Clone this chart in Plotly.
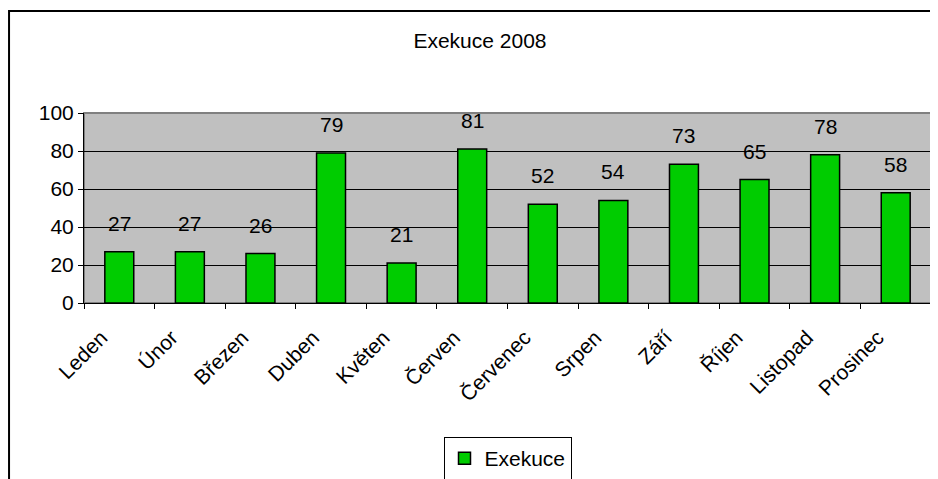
import plotly.graph_objects as go

months = ["Leden", "Únor", "Březen", "Duben", "Květen", "Červen",
          "Červenec", "Srpen", "Září", "Říjen", "Listopad", "Prosinec"]
exekuce = [27, 27, 26, 79, 21, 81, 52, 54, 73, 65, 78, 58]
y_ticks = [0, 20, 40, 60, 80, 100]

FONT = "Liberation Sans, Arial, sans-serif"

fig = go.Figure()
fig.add_trace(go.Bar(
    x=months, y=exekuce, name="Exekuce",
    marker=dict(color="#00CC00", line=dict(color="black", width=1.5)),
))

# value labels above bars
for m, v in zip(months, exekuce):
    fig.add_annotation(x=m, y=v, text=str(v), showarrow=False,
                       yanchor="bottom", yshift=15,
                       font=dict(size=21, color="black", family=FONT))

# outer chart frame (cropped on right/bottom like the original)
fig.add_shape(type="rect", xref="paper", yref="paper",
              x0=-0.0885, x1=1.2, y0=-1.5, y1=1.537,
              line=dict(color="black", width=2), layer="below")
# plot area border
fig.add_shape(type="rect", xref="paper", yref="paper",
              x0=0, x1=1, y0=0, y1=1,
              line=dict(color="#808080", width=2), layer="below")

fig.update_layout(
    width=930, height=471,
    margin=dict(l=76, r=7, t=105, b=176),
    paper_bgcolor="white",
    plot_bgcolor="#C0C0C0",
    font=dict(family=FONT, size=21, color="black"),
    title=dict(text="Exekuce 2008", x=0.4675, xref="paper", xanchor="center",
               y=0.93, yref="container", yanchor="middle",
               font=dict(size=21, family=FONT, color="black")),
    bargap=0.59,
    showlegend=True,
    legend=dict(x=0.5, xanchor="center", xref="paper",
                y=0.089, yanchor="top", yref="container",
                orientation="h", bgcolor="white",
                bordercolor="black", borderwidth=1,
                font=dict(size=21, family=FONT, color="black")),
    xaxis=dict(tickangle=-45, tickson="boundaries", ticks="outside",
               ticklen=5, tickcolor="black", showline=True,
               linecolor="black", linewidth=1, showgrid=False,
               ticklabelstandoff=13, ticklabelshift=-18,
               automargin=False,
               tickfont=dict(size=21, family=FONT)),
    yaxis=dict(range=[0, 100], tickvals=y_ticks, ticks="outside",
               ticklen=5, tickcolor="black", showline=True,
               linecolor="black", linewidth=1, showgrid=True,
               gridcolor="black", gridwidth=1, zeroline=False,
               automargin=False,
               tickfont=dict(size=21, family=FONT)),
)

fig.write_html("out.html")
